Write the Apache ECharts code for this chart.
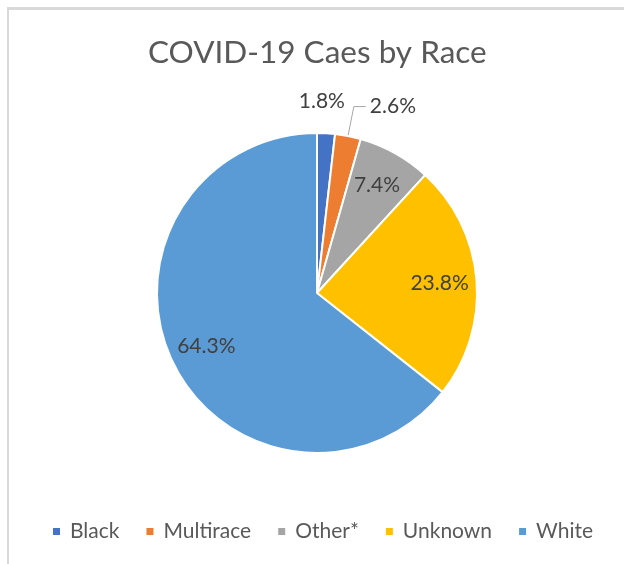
<!DOCTYPE html>
<html>
<head>
<meta charset="utf-8">
<script src="https://cdn.jsdelivr.net/npm/echarts@6/dist/echarts.min.js"></script>
<style>
html,body{margin:0;padding:0;background:#fff;overflow:hidden;}
#frame{position:absolute;left:7px;top:7px;width:700px;height:700px;border-top:3px solid #d9d9d9;border-left:2px solid #d9d9d9;box-sizing:border-box;}
#chart{position:absolute;left:0;top:0;width:624px;height:564px;}
</style>
</head>
<body>
<div id="frame"></div>
<div id="chart"></div>
<script>
const titleText = 'COVID-19 Caes by Race';
const categories = ['Black', 'Multirace', 'Other*', 'Unknown', 'White'];
const values = [1.8, 2.6, 7.4, 23.8, 64.3];
const colors = ['#4472C4', '#ED7D31', '#A5A5A5', '#FFC000', '#5B9BD5'];
const outerLabelled = ['Black'];
const leaderLabelled = ['Multirace'];
const innerLabelled = ['Other*', 'Unknown', 'White'];

const FONT = 'Lato';
const CENTER = [317, 293];
const R = 160;

const fmt = p => p.value.toFixed(1) + '%';

const mainData = categories.map((c, i) => ({
  name: c,
  value: values[i],
  itemStyle: { color: colors[i] },
  label: { show: leaderLabelled.includes(c) },
  labelLine: { show: leaderLabelled.includes(c) }
}));

const innerData = categories.map((c, i) => ({
  name: c, value: values[i],
  label: { show: innerLabelled.includes(c) }
}));
const outerData = categories.map((c, i) => ({
  name: c, value: values[i],
  label: { show: outerLabelled.includes(c) }
}));

const labelStyle = { color: '#404040', fontFamily: FONT, fontSize: 21, formatter: fmt };

const chart = echarts.init(document.getElementById('chart'), null, { renderer: 'canvas' });
chart.setOption({
  animation: false,
  title: {
    text: titleText, left: 143, top: 32,
    textStyle: { fontFamily: FONT, fontSize: 31.5, fontWeight: 'normal', color: '#595959' }
  },
  legend: {
    data: categories, left: 51, top: 521, padding: 0,
    itemWidth: 9, itemHeight: 9, itemGap: 25, icon: 'rect',
    textStyle: { fontFamily: FONT, fontSize: 21, color: '#595959', padding: [0, 0, 0, 4] }
  },
  series: [
    {
      type: 'pie', center: CENTER, radius: [0, R], startAngle: 90, clockwise: true,
      avoidLabelOverlap: false, silent: true,
      itemStyle: { borderColor: '#fff', borderWidth: 2 },
      label: Object.assign({ position: 'outside', distanceToLabelLine: 4 }, labelStyle),
      labelLine: { length: 30, length2: 12, lineStyle: { color: '#a6a6a6', width: 1 } },
      data: mainData
    },
    {
      type: 'pie', center: CENTER, radius: [R * 0.5, R], startAngle: 90, clockwise: true,
      silent: true, avoidLabelOverlap: false,
      itemStyle: { color: 'rgba(0,0,0,0)' },
      label: Object.assign({ position: 'inside' }, labelStyle),
      labelLine: { show: false },
      data: innerData
    },
    {
      type: 'pie', center: CENTER, radius: [R, R * 1.36], startAngle: 90, clockwise: true,
      silent: true, avoidLabelOverlap: false,
      itemStyle: { color: 'rgba(0,0,0,0)' },
      label: Object.assign({ position: 'inside' }, labelStyle),
      labelLine: { show: false },
      labelLayout: { dx: -6 },
      data: outerData
    }
  ]
});
</script>
</body>
</html>
